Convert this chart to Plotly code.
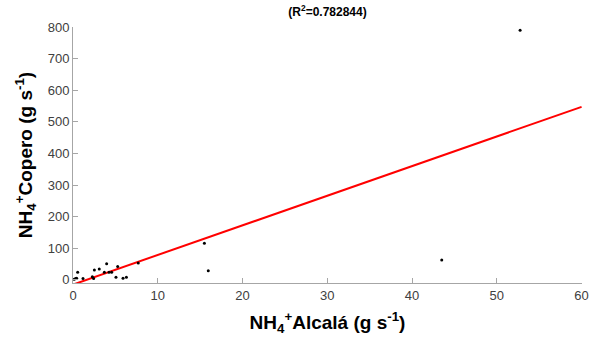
import plotly.graph_objects as go

# NH4+ flux at Alcalá (x) vs Copero (y), g s^-1
alcala = [0.15, 0.3, 0.43, 0.55, 1.18, 2.28, 2.43, 2.52, 3.1, 3.7, 3.97, 4.25,
          4.56, 5.07, 5.27, 5.9, 6.3, 7.7, 15.5, 15.96, 43.5, 52.75]
copero = [2, 4, 5, 24, 4, 10, 4, 31, 34, 24, 51, 24,
          24, 8, 42, 5, 8, 53, 116, 29, 63, 790]

# Linear fit coefficients and goodness of fit
fit_slope = 9.38
fit_intercept = -15.0
r_squared = 0.782844

x_ticks = [0, 10, 20, 30, 40, 50, 60]
y_ticks = [0, 100, 200, 300, 400, 500, 600, 700, 800]

fit_x = [0, 60]
fit_y = [fit_intercept + fit_slope * v for v in fit_x]

fig = go.Figure()
fig.add_trace(go.Scatter(
    x=fit_x, y=fit_y, mode="lines",
    line=dict(color="#ff0000", width=2), showlegend=False, hoverinfo="skip",
))
fig.add_trace(go.Scatter(
    x=alcala, y=copero, mode="markers",
    marker=dict(color="black", size=3, symbol="circle"), showlegend=False,
))

axis_common = dict(
    showgrid=False, zeroline=False, showline=True, linecolor="#a6a6a6",
    linewidth=1, ticks="inside", ticklen=5, tickcolor="#a6a6a6",
    tickfont=dict(family="Liberation Sans, Arial, sans-serif", size=13, color="#404040"),
    mirror=False, automargin=False,
)

fig.update_layout(
    width=589, height=346,
    margin=dict(l=73, r=7, t=27, b=63),
    paper_bgcolor="white", plot_bgcolor="white",
    font=dict(family="Liberation Sans, Arial, sans-serif"),
    title=dict(
        text=f"<b>(R<sup>2</sup>=%g)</b>" % r_squared,
        x=0.5, xref="paper", xanchor="center", y=1, yref="container", yanchor="top",
        pad=dict(t=8),
        font=dict(size=12, color="black"),
        automargin=False,
    ),
    xaxis=dict(
        range=[0, 60.05], tickvals=x_ticks, ticktext=[str(v) for v in x_ticks],
        title=dict(text="<b>NH<sub>4</sub><sup>+</sup>Alcalá (g s<sup>-1</sup>)</b>",
                   font=dict(size=19, color="black"), standoff=14),
        **axis_common,
    ),
    yaxis=dict(
        range=[-10, 800.5], tickvals=y_ticks, ticktext=[str(v) for v in y_ticks],
        title=dict(text="<b>NH<sub>4</sub><sup>+</sup>Copero (g s<sup>-1</sup>)</b>",
                   font=dict(size=19, color="black"), standoff=10),
        **axis_common,
    ),
)

fig.write_html("out.html")
